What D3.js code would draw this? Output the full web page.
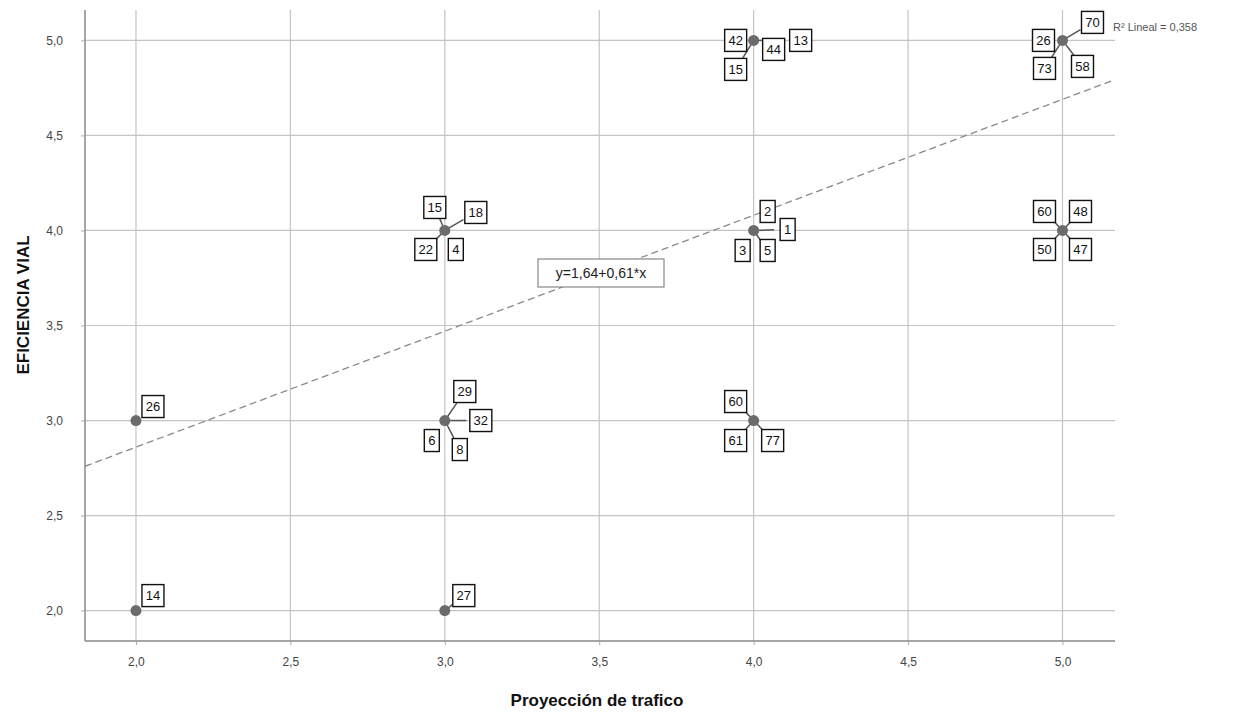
<!DOCTYPE html>
<html><head><meta charset="utf-8">
<script src="https://cdn.jsdelivr.net/npm/d3@7"></script>
<style>body{margin:0;background:#fff}svg{display:block}</style>
</head><body>
<svg id="c" width="1247" height="715"></svg>
<script>
// Data
const xTicks = [2.0, 2.5, 3.0, 3.5, 4.0, 4.5, 5.0];
const yTicks = [2.0, 2.5, 3.0, 3.5, 4.0, 4.5, 5.0];
const pointsX = [2, 2, 3, 3, 3, 4, 4, 4, 5, 5];
const pointsY = [3, 2, 4, 3, 2, 5, 4, 3, 5, 4];
// case labels: [x, y, label]
const caseLabels = [
  [4,5,"42"],[4,5,"15"],[4,5,"44"],[4,5,"13"],
  [5,5,"26"],[5,5,"73"],[5,5,"58"],[5,5,"70"],
  [3,4,"15"],[3,4,"18"],[3,4,"22"],[3,4,"4"],
  [4,4,"2"],[4,4,"1"],[4,4,"3"],[4,4,"5"],
  [5,4,"60"],[5,4,"48"],[5,4,"50"],[5,4,"47"],
  [3,3,"29"],[3,3,"32"],[3,3,"6"],[3,3,"8"],
  [4,3,"60"],[4,3,"61"],[4,3,"77"],
  [2,3,"26"],[2,2,"14"],[3,2,"27"]
];
const fitIntercept = 1.64, fitSlope = 0.61;
const fitLabel = "y=1,64+0,61*x";
const r2Label = "R² Lineal = 0,358";
const xTitle = "Proyección de trafico";
const yTitle = "EFICIENCIA VIAL";

// Layout (label offsets in px, parallel to caseLabels)
const labelOffsets = [
  [-18,0],[-18,29],[20,9],[47,0],
  [-19,0],[-18,28],[20,26],[30,-18],
  [-10,-23],[31,-18],[-19,19],[11,19],
  [14,-19],[34,-1],[-11,20],[14,20],
  [-18,-19],[18,-19],[-18,19],[18,19],
  [20,-29],[36,0],[-13,20],[15,29],
  [-18,-19],[-18,20],[19,20],
  [17,-14],[17,-15],[19,-15]
];

const svg = d3.select("#c");
const L = 85, R = 1115, T = 10, B = 641;
const x = d3.scaleLinear().domain([1.835, 5.17]).range([L, R]);
const y = d3.scaleLinear().domain([1.84, 5.16]).range([B, T]);
const fmt = d => d.toFixed(1).replace(".", ",");

// gridlines
svg.append("g").selectAll("line").data(xTicks).join("line")
  .attr("x1", d => x(d)).attr("x2", d => x(d)).attr("y1", T).attr("y2", B)
  .attr("stroke", "#c4c4c4").attr("stroke-width", 1.2);
svg.append("g").selectAll("line").data(yTicks).join("line")
  .attr("y1", d => y(d)).attr("y2", d => y(d)).attr("x1", L).attr("x2", R)
  .attr("stroke", "#c4c4c4").attr("stroke-width", 1.2);

// axes
const xa = svg.append("g").attr("transform", `translate(0,${B})`)
  .call(d3.axisBottom(x).tickValues(xTicks).tickFormat(fmt).tickSize(4).tickPadding(12));
const ya = svg.append("g").attr("transform", `translate(${L},0)`)
  .call(d3.axisLeft(y).tickValues(yTicks).tickFormat(fmt).tickSize(4).tickPadding(18));
[xa, ya].forEach(a => {
  a.select(".domain").attr("stroke", "#888").attr("stroke-width", 1.5);
  a.selectAll(".tick line").attr("stroke", "#aaa");
  a.selectAll("text").attr("fill", "#444").style("font-family", "Liberation Sans, Arial, sans-serif").style("font-size", "12px");
});
xa.select(".domain").attr("d", `M${L},0H${R}`);
ya.select(".domain").attr("d", `M0,${B}V${T}`);

// titles
svg.append("text").attr("x", 597).attr("y", 706).attr("text-anchor", "middle")
  .style("font-family", "Liberation Sans, Arial, sans-serif").style("font-size", "17px").style("font-weight", "bold")
  .attr("fill", "#111").text(xTitle);
svg.append("text").attr("transform", "translate(29,305) rotate(-90)").attr("text-anchor", "middle")
  .style("font-family", "Liberation Sans, Arial, sans-serif").style("font-size", "17px").style("font-weight", "bold")
  .attr("fill", "#111").text(yTitle);

// fit line
svg.append("defs").append("clipPath").attr("id", "clip").append("rect")
  .attr("x", L).attr("y", T).attr("width", R - L).attr("height", B - T);
const xd = x.domain();
svg.append("line").attr("clip-path", "url(#clip)")
  .attr("x1", x(xd[0])).attr("y1", y(fitIntercept + fitSlope * xd[0]))
  .attr("x2", x(xd[1])).attr("y2", y(fitIntercept + fitSlope * xd[1]))
  .attr("stroke", "#8a8a8a").attr("stroke-width", 1.3).attr("stroke-dasharray", "7,4");

// leader lines
const lbl = caseLabels.map((d, i) => ({px: x(d[0]), py: y(d[1]), t: d[2], dx: labelOffsets[i][0], dy: labelOffsets[i][1]}));
svg.append("g").selectAll("line").data(lbl.filter(d => Math.hypot(d.dx, d.dy) > 24)).join("line")
  .attr("x1", d => d.px).attr("y1", d => d.py)
  .attr("x2", d => d.px + d.dx * 0.6).attr("y2", d => d.py + d.dy * 0.6)
  .attr("stroke", "#555").attr("stroke-width", 1.5);

// points
svg.append("g").selectAll("circle").data(pointsX.map((v, i) => [v, pointsY[i]])).join("circle")
  .attr("cx", d => x(d[0])).attr("cy", d => y(d[1])).attr("r", 5.5).attr("fill", "#6b6b6b");

// label boxes
const lg = svg.append("g").selectAll("g").data(lbl).join("g")
  .attr("transform", d => `translate(${d.px + d.dx},${d.py + d.dy})`);
lg.append("rect")
  .attr("x", d => -(d.t.length > 1 ? 11 : 7.5)).attr("y", -11)
  .attr("width", d => d.t.length > 1 ? 22 : 15).attr("height", 22)
  .attr("fill", "#fff").attr("stroke", "#111").attr("stroke-width", 1.4);
lg.append("text").attr("text-anchor", "middle").attr("dy", "0.36em")
  .style("font-family", "Liberation Sans, Arial, sans-serif").style("font-size", "13px").attr("fill", "#111")
  .text(d => d.t);

// R2 label
svg.append("text").attr("x", 1113).attr("y", 31)
  .style("font-family", "Liberation Sans, Arial, sans-serif").style("font-size", "11px").attr("fill", "#555")
  .text(r2Label);

// equation box
const eq = svg.append("g").attr("transform", "translate(601,273)");
eq.append("rect").attr("x", -63).attr("y", -14).attr("width", 126).attr("height", 28)
  .attr("fill", "#fff").attr("stroke", "#888").attr("stroke-width", 1.2);
eq.append("text").attr("text-anchor", "middle").attr("dy", "0.36em")
  .style("font-family", "Liberation Sans, Arial, sans-serif").style("font-size", "14px").attr("fill", "#222")
  .text(fitLabel);
</script>
</body></html>
